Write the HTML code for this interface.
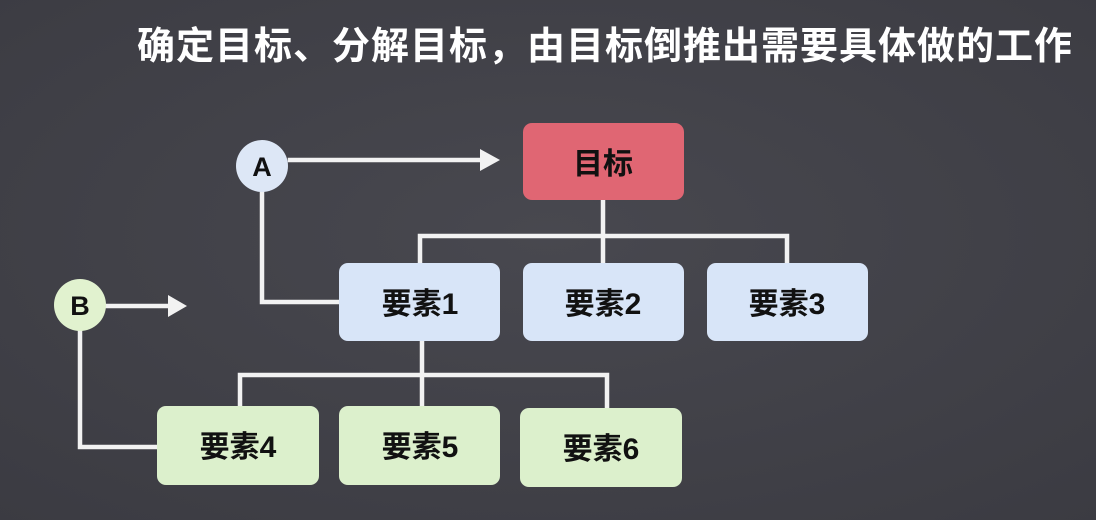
<!DOCTYPE html>
<html><head><meta charset="utf-8"><style>
html,body{margin:0;padding:0;background:#45454c;}
svg{display:block}
text{font-family:"Liberation Sans","Noto Sans CJK SC",sans-serif;font-weight:bold}
</style></head><body>
<svg width="1096" height="520" viewBox="0 0 1096 520" xmlns="http://www.w3.org/2000/svg">
<defs>
<radialGradient id="bg" cx="50%" cy="45%" r="75%">
<stop offset="0" stop-color="#48484f"/><stop offset="1" stop-color="#3b3b42"/>
</radialGradient>
</defs>
<rect width="1096" height="520" fill="url(#bg)"/>
<text x="137" y="59" font-size="38" fill="#fff" textLength="935" lengthAdjust="spacing">确定目标、分解目标，由目标倒推出需要具体做的工作</text>
<g stroke="#f2f2f2" stroke-width="4.5" fill="none" stroke-linecap="square">
<path d="M290 160 H490"/>
<path d="M262 192 V302 H340"/>
<path d="M603 200 V268"/>
<path d="M420 263 V236 H787 V263"/>
<path d="M107 306 H178"/>
<path d="M80 330 V447 H158"/>
<path d="M422 341 V410"/>
<path d="M240 406 V375 H607 V408"/>
</g>
<g fill="#f2f2f2">
<path d="M480 149 L500 160 L480 171 Z"/>
<path d="M168 295 L187 306 L168 317 Z"/>
</g>
<circle cx="262" cy="166" r="26" fill="#dde7f6"/>
<text x="262" y="176" font-size="27" text-anchor="middle" fill="#111">A</text>
<circle cx="80" cy="305" r="26" fill="#e1f2cf"/>
<text x="80" y="315" font-size="27" text-anchor="middle" fill="#111">B</text>
<rect x="523" y="123" width="161" height="77" rx="9" fill="#e06673"/>
<text x="603" y="174" font-size="30" text-anchor="middle" fill="#111">目标</text>
<g fill="#d8e5f8">
<rect x="339" y="263" width="161" height="78" rx="9"/>
<rect x="523" y="263" width="161" height="78" rx="9"/>
<rect x="707" y="263" width="161" height="78" rx="9"/>
</g>
<g fill="#dcf0cc">
<rect x="157" y="406" width="162" height="79" rx="9"/>
<rect x="339" y="406" width="161" height="79" rx="9"/>
<rect x="520" y="408" width="162" height="79" rx="9"/>
</g>
<g font-size="30" text-anchor="middle" fill="#111">
<text x="420" y="314">要素1</text>
<text x="603" y="314">要素2</text>
<text x="787" y="314">要素3</text>
<text x="238" y="457">要素4</text>
<text x="420" y="457">要素5</text>
<text x="601" y="459">要素6</text>
</g>
</svg>
</body></html>
